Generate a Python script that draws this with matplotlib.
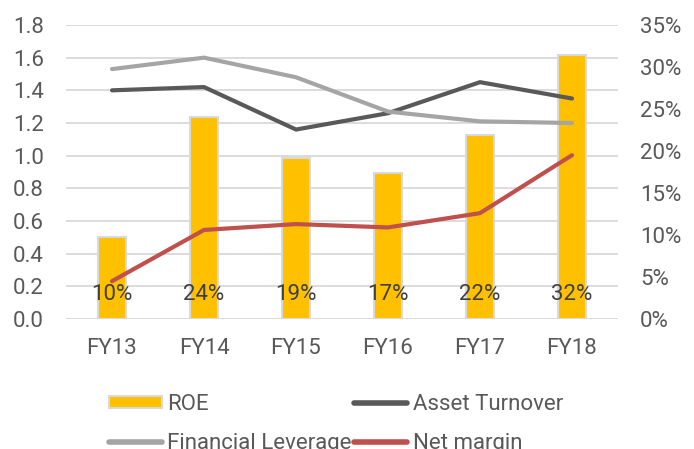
import numpy as np
import matplotlib.pyplot as plt
from matplotlib.ticker import PercentFormatter
from matplotlib.patches import Patch
from matplotlib.lines import Line2D

plt.rcParams['font.family'] = ['Roboto', 'DejaVu Sans']

# data
years = ['FY13', 'FY14', 'FY15', 'FY16', 'FY17', 'FY18']
roe = [9.8, 24.1, 19.2, 17.4, 21.9, 31.4]           # %, right axis
roe_labels = ['10%', '24%', '19%', '17%', '22%', '32%']
asset_turnover = [1.40, 1.42, 1.16, 1.26, 1.45, 1.35]
fin_leverage = [1.53, 1.60, 1.48, 1.27, 1.21, 1.20]
net_margin = [4.5, 10.6, 11.3, 10.9, 12.6, 19.5]    # %, right axis

x = np.arange(len(years))
txt = '#595959'
grid_c = '#d9d9d9'
fs = 16

fig = plt.figure(figsize=(6.94, 4.49), dpi=100)
pos = [66/694, 1-319/449, 552/694, 294/449]

# left axis: grid + tick labels
ax = fig.add_axes(pos)
ax.set_xlim(-0.5, 5.5)
ax.set_ylim(0, 1.8)
ax.set_yticks(np.arange(0, 1.81, 0.2))
ax.set_yticklabels([f'{v:.1f}' for v in np.arange(0, 1.81, 0.2)])
ax.yaxis.grid(True, color=grid_c, linewidth=1.3)
ax.set_axisbelow(True)
ax.set_xticks(x)
ax.set_xticklabels(years)
ax.tick_params(axis='y', length=0, pad=16, labelsize=fs, labelcolor=txt)
ax.tick_params(axis='x', length=0, pad=14, labelsize=fs, labelcolor=txt)
for s in ax.spines.values():
    s.set_visible(False)

# right axis: ROE bars + net margin
ax2 = ax.twinx()
ax2.set_ylim(0, 35)
ax2.set_yticks(np.arange(0, 36, 5))
ax2.yaxis.set_major_formatter(PercentFormatter(decimals=0))
ax2.tick_params(axis='y', length=0, pad=16, labelsize=fs, labelcolor=txt)
for s in ax2.spines.values():
    s.set_visible(False)
ax2.bar(x, roe, width=0.3, color='#FFC000', edgecolor=grid_c, linewidth=1.5, zorder=2)
ax2.plot(x, net_margin, color='#C0504D', linewidth=3, solid_capstyle='round', zorder=3)
for xi, lab in zip(x, roe_labels):
    ax2.annotate(lab, (xi, 0), xytext=(0, 24), textcoords='offset pixels',
                 ha='center', va='center', fontsize=fs, color='#404040', zorder=5)

# top layer: asset turnover / leverage lines on left scale
ax3 = fig.add_axes(pos, sharex=ax, sharey=ax)
ax3.patch.set_visible(False)
ax3.axis('off')
ax3.plot(x, asset_turnover, color='#595959', linewidth=3, solid_capstyle='round')
ax3.plot(x, fin_leverage, color='#A5A5A5', linewidth=3, solid_capstyle='round')

handles = [
    Patch(facecolor='#FFC000', edgecolor=grid_c, linewidth=1.5),
    Line2D([], [], color='#A5A5A5', linewidth=4, solid_capstyle='round'),
    Line2D([], [], color='#595959', linewidth=4, solid_capstyle='round'),
    Line2D([], [], color='#C0504D', linewidth=4, solid_capstyle='round'),
]
labels = ['ROE', 'Financial Leverage', 'Asset Turnover', 'Net margin']
leg = fig.legend(handles, labels, ncol=2, loc='upper left',
                 bbox_to_anchor=(109/694, 1-394/449), frameon=False,
                 fontsize=fs, handlelength=2.4, handleheight=0.5,
                 handletextpad=0.23, columnspacing=0.1, labelspacing=0.8,
                 borderpad=0, borderaxespad=0)
for t in leg.get_texts():
    t.set_color(txt)

fig.savefig('out.png', dpi=100)
